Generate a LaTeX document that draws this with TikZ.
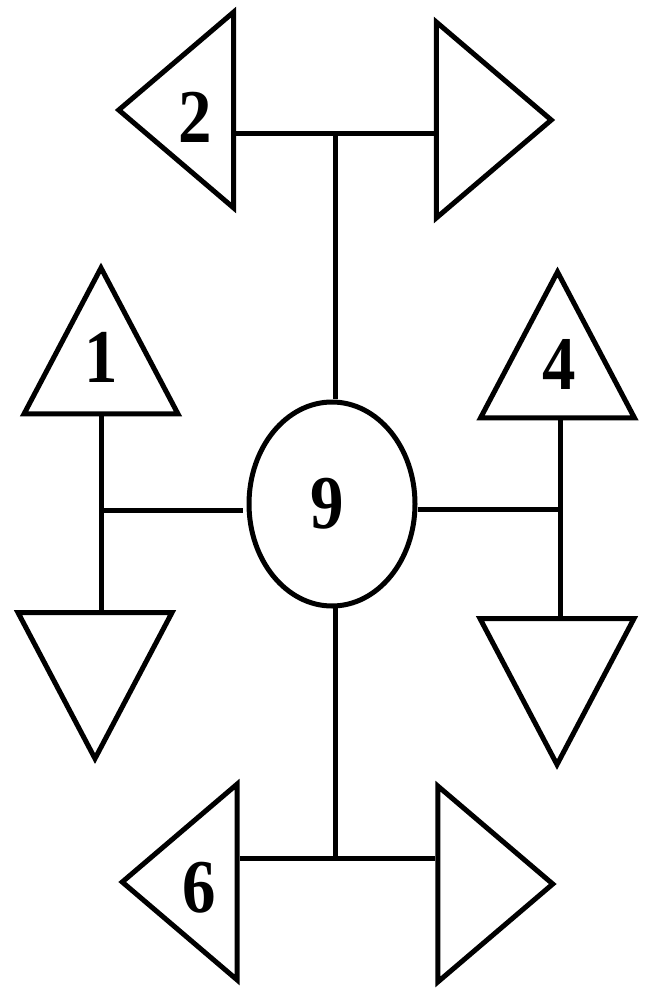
\documentclass[tikz,border=0pt]{standalone}
\usepackage{fontspec}
\setmainfont{Liberation Serif}
\usetikzlibrary{shapes.geometric, positioning}
\tikzset{
  tri/.style={isosceles triangle, isosceles triangle stretches, draw=black, fill=white,
    inner sep=0pt, line width=5pt, miter limit=10},
  trileft/.style={tri, shape border rotate=180, minimum height=115pt, minimum width=196pt},
  triright/.style={tri, shape border rotate=0, minimum height=115pt, minimum width=196pt},
  triup/.style={tri, shape border rotate=90, minimum height=146pt, minimum width=154pt},
  tridown/.style={tri, shape border rotate=270, minimum height=146pt, minimum width=154pt},
  hub/.style={ellipse, draw=black, fill=white, line width=5pt, inner sep=0pt,
    minimum width=166pt, minimum height=204pt},
  digit/.style={font=\fontsize{76pt}{76pt}\selectfont\bfseries, inner sep=0pt, xscale=0.88},
  link/.style={line width=5pt, color=black}
}
\begin{document}
\begin{tikzpicture}[x=1pt, y=-1pt]
  \useasboundingbox (0,0) rectangle (654,995);
  \fill[white] (0,0) rectangle (654,995);
  % --- JUNCTIONS ---
  \coordinate (jtop) at (335,134);
  \coordinate (jleft) at (101,510);
  \coordinate (jright) at (560,509);
  \coordinate (jbot) at (335,858);
  \coordinate (hubtop) at (335,399);
  \coordinate (hubbot) at (335,606);
  \coordinate (hubleft) at (243,510);
  % --- TRIANGLES ---
  \node[trileft] (t2) at (188.5,110) {};
  \node[triright] (t3) at (481.5,120) {};
  \node[triup] (t1) at (101,367.5) {};
  \node[tridown] (t8) at (95,659) {};
  \node[triup] (t4) at (557.5,371.5) {};
  \node[tridown] (t5) at (557,665) {};
  \node[trileft] (t6) at (192,882) {};
  \node[triright] (t7) at (483,884) {};
  \node[hub] (core) at (332,504) {};
  % --- CONNECTORS ---
  \draw[link] (jtop -| t2.east) -- (jtop -| t3.west);
  \draw[link] (jtop) -- (hubtop);
  \draw[link] (jleft |- t1.south) -- (jleft |- t8.north);
  \draw[link] (jleft) -- (hubleft);
  \draw[link] (core.east |- jright) -- (jright);
  \draw[link] (jright |- t4.south) -- (jright |- t5.north);
  \draw[link] (hubbot) -- (jbot);
  \draw[link] (jbot -| t6.east) -- (jbot -| t7.west);
  % --- LABELS ---
  \node[digit] (l2) at (195,117) {2};
  \node[digit] (l1) at (101,357) {1};
  \node[digit] (l4) at (559,364) {4};
  \node[digit] (l9) at (327,504) {9};
  \node[digit] (l6) at (199,888) {6};
\end{tikzpicture}
\end{document}
